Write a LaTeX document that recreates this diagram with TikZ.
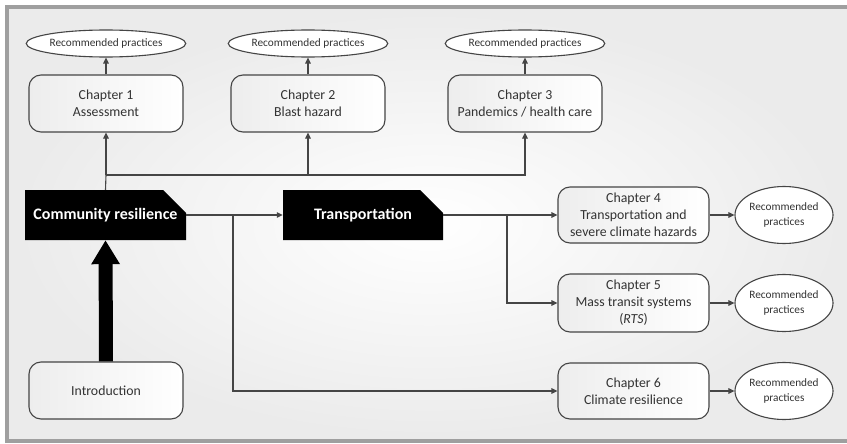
\documentclass[tikz,border=0pt]{standalone}
\usepackage{fontspec}
\setmainfont{Carlito}
\usetikzlibrary{shapes.geometric,shapes.misc,arrows.meta,calc}
\definecolor{txt}{HTML}{333333}
\definecolor{ln}{HTML}{454545}
\begin{document}
\begin{tikzpicture}[x=1pt,y=-1pt,
  every node/.style={font=\fontsize{13.8}{17}\selectfont, text=txt, align=center},
  chbox/.style={rectangle, rounded corners=12pt, draw=ln, line width=1.1pt,
     left color=gray!14, right color=white, minimum width=154pt, minimum height=57pt, inner sep=1pt},
  rbox/.style={chbox, minimum width=151pt},
  topell/.style={ellipse, draw=ln, line width=1.1pt, fill=white, minimum width=142pt, minimum height=27pt,
     inner sep=0pt, font=\fontsize{11.3}{13}\selectfont},
  sideell/.style={ellipse, draw=ln, line width=1.1pt, fill=white, minimum width=98pt, minimum height=57pt,
     inner sep=0pt, font=\fontsize{11.3}{14.5}\selectfont},
  blk/.style={chamfered rectangle, chamfered rectangle corners=north east,
     chamfered rectangle xsep=16pt, chamfered rectangle ysep=16pt,
     fill=black, text=white, font=\bfseries\fontsize{16}{18}\selectfont, minimum width=161pt, minimum height=50pt, inner sep=0pt},
  conn/.style={draw=ln, line width=1.1pt},
  arr/.style={conn, -{Triangle[length=6pt,width=5.5pt]}}
]
\useasboundingbox (0,0) rectangle (847,444);
\shade[inner color=white, outer color=gray!16] (7,7) rectangle (851,441);
\draw[gray!75!black!60, line width=3.5pt] (7,7) rectangle (853,441);

% top row
\node[topell] (e1) at (106,43.5) {Recommended practices};
\node[topell] (e2) at (308,43.5) {Recommended practices};
\node[topell] (e3) at (525,43.5) {Recommended practices};
\node[chbox] (c1) at (106,103.5) {Chapter 1\\Assessment};
\node[chbox] (c2) at (308,103.5) {Chapter 2\\Blast hazard};
\node[chbox] (c3) at (525,103.5) {Chapter 3\\Pandemics / health care};

% middle
\node[blk] (cr) at (105.5,215) {Community resilience};
\node[blk, minimum width=160pt] (tr) at (363,215) {Transportation};
\node[chbox] (intro) at (106,390.5) {Introduction};

% right column
\node[rbox, minimum height=56pt] (c4) at (633.5,215) {Chapter 4\\Transportation and\\severe climate hazards};
\node[rbox, minimum height=58pt] (c5) at (633.5,303) {Chapter 5\\Mass transit systems\\(\textit{RTS})};
\node[rbox, minimum height=56pt] (c6) at (633.5,391) {Chapter 6\\Climate resilience};
\node[sideell] (r4) at (784,215) {Recommended\\practices};
\node[sideell] (r5) at (784,303) {Recommended\\practices};
\node[sideell] (r6) at (784,391) {Recommended\\practices};

% connectors
\coordinate (j) at (106,175);
\coordinate (b1) at (233,215);
\coordinate (b2) at (507,215);
\draw[conn] (cr.north) -- (j);
\draw[arr] (j) -- (c1.south);
\draw[arr] (j) -| (c2.south);
\draw[arr] (j) -| (c3.south);
\draw[arr] (c1.north) -- (e1.south);
\draw[arr] (c2.north) -- (e2.south);
\draw[arr] (c3.north) -- (e3.south);
\draw[arr] (cr.east) -- (tr.west);
\draw[arr] (b1) |- (c6.west);
\draw[arr] (tr.east) -- (c4.west);
\draw[arr] (b2) |- (c5.west);
\draw[arr] (c4.east) -- (r4.west);
\draw[arr] (c5.east) -- (r5.west);
\draw[arr] (c6.east) -- (r6.west);
\draw[black, line width=14pt, -{Triangle[length=24pt,width=27pt]}] (intro.north) -- (cr.south);
\end{tikzpicture}
\end{document}
